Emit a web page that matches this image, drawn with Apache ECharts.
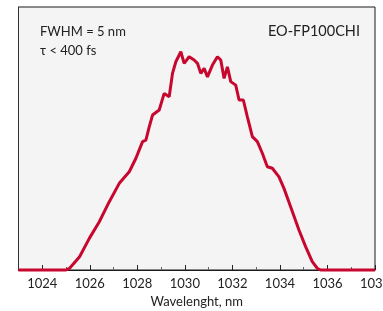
<!DOCTYPE html>
<html>
<head>
<meta charset="utf-8">
<script src="https://cdn.jsdelivr.net/npm/echarts@6/dist/echarts.min.js"></script>
<style>
  html, body { margin: 0; padding: 0; background: #fff; }
  #chart { width: 383px; height: 311px; }
</style>
</head>
<body>
<div id="chart"></div>
<script>
// wavelength (nm) and normalized intensity
var wavelength = [1023, 1024.7, 1025.0, 1025.15, 1025.57, 1025.98, 1026.4, 1026.82, 1027.24, 1027.66,
    1027.94, 1028.22, 1028.36, 1028.5, 1028.64, 1028.92, 1029.13, 1029.34, 1029.48, 1029.62,
    1029.83, 1029.97, 1030.18, 1030.39, 1030.53, 1030.67, 1030.81, 1030.95, 1031.16, 1031.37,
    1031.51, 1031.65, 1031.79, 1031.93, 1032.14, 1032.28, 1032.46, 1032.63, 1032.7, 1032.84,
    1033.05, 1033.26, 1033.47, 1033.68, 1033.96, 1034.17, 1034.45, 1034.8, 1035.08, 1035.36,
    1035.57, 1035.71, 1038];
var intensity = [0, 0, 0, 0.008, 0.061, 0.145, 0.221, 0.313, 0.397, 0.45,
    0.512, 0.588, 0.595, 0.656, 0.71, 0.733, 0.809, 0.794, 0.901, 0.954,
    1.0, 0.947, 0.977, 0.962, 0.947, 0.901, 0.924, 0.885, 0.939, 0.977,
    0.962, 0.878, 0.931, 0.863, 0.847, 0.779, 0.779, 0.702, 0.695, 0.611,
    0.588, 0.535, 0.473, 0.466, 0.427, 0.374, 0.29, 0.183, 0.107, 0.038,
    0.008, 0, 0];
var majorTicks = [1024, 1026, 1028, 1030, 1032, 1034, 1036, 1038];
var minorTicks = [1025, 1027, 1029, 1031, 1033, 1035, 1037];
var notes = ['FWHM = 5 nm', 'τ < 400 fs'];
var model = 'EO-FP100CHI';

var points = wavelength.map(function (w, i) { return [w, intensity[i]]; });
var font = 'Lato, "Open Sans", sans-serif';

var myChart = echarts.init(document.getElementById('chart'));
var option = {
    animation: false,
    backgroundColor: '#ffffff',
    grid: {
        left: 18.5, right: 8, top: 7, bottom: 41,
        containLabel: false,
        outerBoundsMode: 'none',
        show: true,
        backgroundColor: '#f4f4f4',
        borderColor: '#1a1a1a',
        borderWidth: 1
    },
    graphic: [
        { type: 'text', left: 40, top: 25, style: { text: notes[0], fill: '#222', font: '13px ' + font } },
        { type: 'text', left: 40, top: 44, style: { text: notes[1], fill: '#222', font: '13px ' + font } },
        { type: 'text', right: 23, top: 24, style: { text: model, fill: '#222', font: '14.5px ' + font } }
    ],
    xAxis: [
        {
            type: 'value', min: 1023, max: 1038,
            name: 'Wavelenght, nm', nameLocation: 'middle', nameGap: 25,
            nameTextStyle: { color: '#222', fontSize: 13, fontFamily: font },
            axisLine: { show: true, lineStyle: { color: '#1a1a1a', width: 1 } },
            axisTick: { show: true, inside: true, length: 5, customValues: majorTicks, lineStyle: { color: '#222' } },
            axisLabel: {
                show: true, customValues: majorTicks, margin: 7, color: '#222',
                fontSize: 13, fontFamily: font, showMaxLabel: true, hideOverlap: false,
                formatter: function (v) { return String(v); }
            },
            splitLine: { show: false }
        },
        {
            type: 'value', min: 1023, max: 1038, position: 'bottom',
            axisLine: { show: false },
            axisTick: { show: true, inside: true, length: 3, customValues: minorTicks, lineStyle: { color: '#666' } },
            axisLabel: { show: false },
            splitLine: { show: false }
        }
    ],
    yAxis: {
        type: 'value', min: 0, max: 1.205,
        axisLine: { show: true, lineStyle: { color: '#333' } },
        axisTick: { show: false },
        axisLabel: { show: false },
        splitLine: { show: false }
    },
    series: [
        {
            type: 'line',
            data: points,
            showSymbol: false,
            clip: false,
            lineStyle: { color: '#c8072f', width: 3 },
            z: 5
        }
    ]
};
myChart.setOption(option);
window.addEventListener('resize', function () {
    myChart.resize();
});
</script>
</body>
</html>
